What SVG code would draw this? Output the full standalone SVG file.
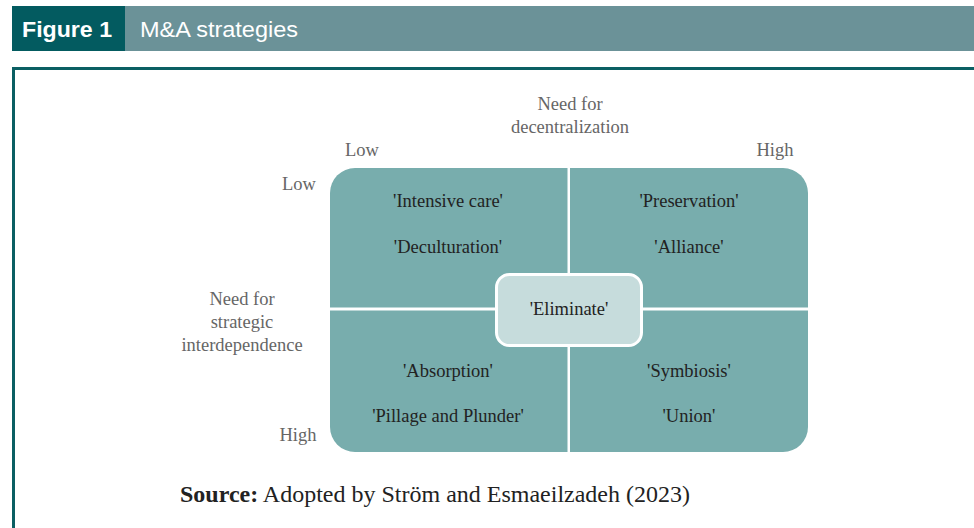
<svg xmlns="http://www.w3.org/2000/svg" width="974" height="528" viewBox="0 0 974 528">
<style>
.q{fill:#78adad}
.qt{font-family:"Liberation Serif",serif;font-size:18.5px;fill:#222;text-anchor:middle}
.lb{font-family:"Liberation Serif",serif;font-size:18.5px;fill:#666;text-anchor:middle}
.hd{font-family:"Liberation Sans",Arial,sans-serif;font-size:22px;fill:#fff}
</style>
<rect width="974" height="528" fill="#fff"/>
<g id="header">
<rect x="125" y="6" width="849" height="45" fill="#6b9298"/>
<rect x="12" y="6" width="113" height="45" fill="#035b60"/>
<text class="hd" x="22" y="37" font-weight="bold" textLength="90" lengthAdjust="spacingAndGlyphs">Figure 1</text>
<text class="hd" x="140" y="37" textLength="158" lengthAdjust="spacingAndGlyphs">M&amp;A strategies</text>
</g>
<g id="frame">
<path d="M13.5,528 L13.5,68.5 L974,68.5" fill="none" stroke="#0b5f63" stroke-width="3"/>
</g>
<g id="axis-labels">
<text class="lb" x="570" y="110">Need for</text>
<text class="lb" x="570" y="133">decentralization</text>
<text class="lb" x="362" y="156">Low</text>
<text class="lb" x="775" y="156">High</text>
<text class="lb" x="299" y="190">Low</text>
<text class="lb" x="242" y="305">Need for</text>
<text class="lb" x="242" y="328">strategic</text>
<text class="lb" x="242" y="351">interdependence</text>
<text class="lb" x="298" y="441">High</text>
</g>
<g id="q-top-left">
<path class="q" d="M330,193 A25,25 0 0 1 355,168 L567.5,168 L567.5,307.5 L330,307.5 Z"/>
<text class="qt" x="448" y="207">'Intensive care'</text>
<text class="qt" x="448" y="253">'Deculturation'</text>
</g>
<g id="q-top-right">
<path class="q" d="M570,168 L783,168 A25,25 0 0 1 808,193 L808,307.5 L570,307.5 Z"/>
<text class="qt" x="689" y="207">'Preservation'</text>
<text class="qt" x="689" y="253">'Alliance'</text>
</g>
<g id="q-bottom-left">
<path class="q" d="M330,310.5 L567.5,310.5 L567.5,452 L355,452 A25,25 0 0 1 330,427 Z"/>
<text class="qt" x="448" y="377">'Absorption'</text>
<text class="qt" x="448" y="422">'Pillage and Plunder'</text>
</g>
<g id="q-bottom-right">
<path class="q" d="M570,310.5 L808,310.5 L808,427 A25,25 0 0 1 783,452 L570,452 Z"/>
<text class="qt" x="689" y="377">'Symbiosis'</text>
<text class="qt" x="689" y="422">'Union'</text>
</g>
<g id="center">
<rect x="496.5" y="274.5" width="145" height="71" rx="13" fill="#c6dcdc" stroke="#fff" stroke-width="3"/>
<text class="qt" x="569" y="315">'Eliminate'</text>
</g>
<g id="source">
<text x="180" y="502" font-family="'Liberation Serif',serif" font-size="22.5" fill="#222" textLength="510" lengthAdjust="spacingAndGlyphs"><tspan font-weight="bold">Source:</tspan> Adopted by Ström and Esmaeilzadeh (2023)</text>
</g>
<g id="connectors"></g>
</svg>
